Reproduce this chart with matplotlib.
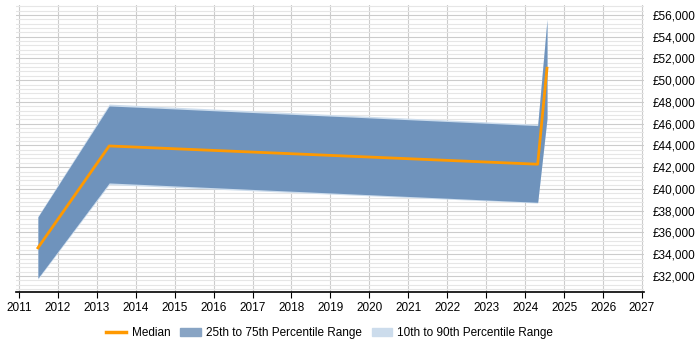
import matplotlib.pyplot as plt
import matplotlib.ticker as mticker
from matplotlib.patches import Patch
from matplotlib.lines import Line2D

plt.rcParams['font.family'] = ['Liberation Sans', 'DejaVu Sans']

# data
years = [2011.49, 2013.32, 2024.32, 2024.56]
p10 = [31700, 40400, 38700, 46400]
p25 = [31800, 40550, 38770, 46500]
median = [34580, 43950, 42270, 51100]
p75 = [37420, 47630, 45820, 55540]
p90 = [37500, 47800, 45950, 55700]

fig = plt.figure(figsize=(7, 3.5), dpi=100)
ax = fig.add_axes([0.023, 0.166, 0.897, 0.82])

ax.fill_between(years, p10, p90, color='#ccdcec', lw=0, zorder=2)
ax.fill_between(years, p25, p75, color='#6f93bc', lw=0, zorder=3)
ax.plot(years, median, color='#ff9900', lw=2, zorder=4)

ax.set_xlim(2010.93, 2027.05)
ax.set_ylim(30530, 56920)
ax.xaxis.set_major_locator(mticker.MultipleLocator(1))
ax.xaxis.set_major_formatter(mticker.FuncFormatter(lambda v, p: f'{int(round(v))}'))
ax.yaxis.set_major_locator(mticker.MultipleLocator(2000))
ax.yaxis.set_minor_locator(mticker.MultipleLocator(400))
ax.yaxis.set_major_formatter(mticker.FuncFormatter(lambda v, p: f'£{int(v):,}'))
ax.yaxis.tick_right()

ax.grid(which='major', axis='both', color='#cccccc', lw=0.8, zorder=0)
ax.grid(which='minor', axis='y', color='#e6e6e6', lw=0.8, zorder=0)
ax.set_axisbelow(True)

for s in ['top', 'left', 'right']:
    ax.spines[s].set_visible(False)
ax.spines['bottom'].set_color('black')
ax.spines['bottom'].set_linewidth(1.2)

ax.tick_params(axis='y', which='both', length=0, labelsize=8.5, pad=6)
ax.tick_params(axis='x', length=4, labelsize=8.5, color='black')

handles = [
    Line2D([0], [0], color='#ff9900', lw=2.5),
    Patch(color='#88a4c4'),
    Patch(color='#ccdcec'),
]
labels = ['Median', '25th to 75th Percentile Range', '10th to 90th Percentile Range']
fig.legend(handles, labels, loc='lower center', bbox_to_anchor=(0.471, 0.0), ncol=3,
           frameon=False, fontsize=8.5, handlelength=1.7, handletextpad=0.45,
           columnspacing=0.85)

fig.savefig('out.png', dpi=100)
